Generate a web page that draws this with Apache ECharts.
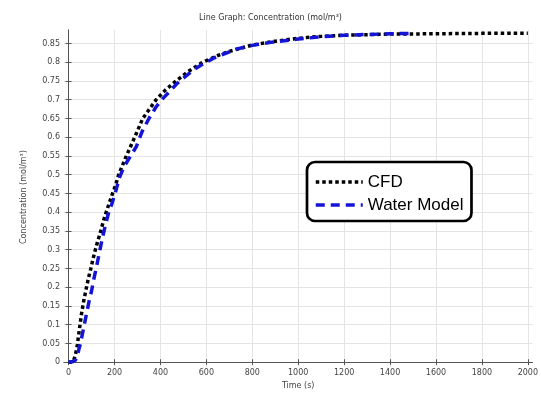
<!DOCTYPE html>
<html>
<head>
<meta charset="utf-8">
<script src="https://cdn.jsdelivr.net/npm/echarts@6/dist/echarts.min.js"></script>
<style>html,body{margin:0;padding:0;background:#fff}#c{width:541px;height:395px}</style>
</head>
<body>
<div id="c"></div>
<script>
// ---- data ----
const seriesNames = ['CFD', 'Water Model'];
const xTicks = [0, 200, 400, 600, 800, 1000, 1200, 1400, 1600, 1800, 2000];
const yTicks = [0, 0.05, 0.1, 0.15, 0.2, 0.25, 0.3, 0.35, 0.4, 0.45, 0.5, 0.55, 0.6, 0.65, 0.7, 0.75, 0.8, 0.85];

const cfdTime = [0, 20, 30, 38, 48, 57, 67, 77, 87, 97, 107, 117, 127, 137, 147, 157, 168, 178, 188, 198, 208, 218, 250, 290, 323, 381, 420, 468, 520, 584, 650, 700, 800, 900, 1000, 1100, 1200, 1400, 1600, 1800, 2000];
const cfdConc = [0, 0.001, 0.02, 0.046, 0.092, 0.132, 0.167, 0.197, 0.226, 0.250, 0.277, 0.301, 0.323, 0.343, 0.366, 0.388, 0.408, 0.426, 0.444, 0.461, 0.479, 0.5, 0.548, 0.603, 0.65, 0.70, 0.725, 0.75, 0.775, 0.80, 0.818, 0.829, 0.846, 0.856, 0.864, 0.869, 0.872, 0.875, 0.876, 0.877, 0.877];

const waterTime = [0, 20, 30, 38, 45, 52, 60, 70, 80, 90, 100, 110, 120, 130, 140, 150, 160, 175, 190, 205, 220, 240, 265, 295, 320, 350, 380, 410, 440, 470, 505, 540, 590, 635, 730, 800, 880, 1000, 1100, 1200, 1300, 1400, 1500];
const waterConc = [0, 0.002, 0.006, 0.015, 0.035, 0.05, 0.075, 0.105, 0.135, 0.165, 0.19, 0.222, 0.25, 0.28, 0.31, 0.338, 0.365, 0.40, 0.425, 0.455, 0.49, 0.52, 0.545, 0.575, 0.615, 0.65, 0.68, 0.703, 0.722, 0.742, 0.76, 0.778, 0.797, 0.812, 0.835, 0.845, 0.853, 0.862, 0.868, 0.872, 0.874, 0.876, 0.877];

const zip = (a, b) => a.map((v, i) => [v, b[i]]);
const font = 'DejaVu Sans';
const axisColor = '#555';
const txt = '#444';

const chart = echarts.init(document.getElementById('c'), null, {renderer: 'canvas'});
chart.setOption({
  animation: false,
  backgroundColor: '#fff',
  title: {
    text: 'Line Graph: Concentration (mol/m³)',
    left: 'center', top: 9,
    textStyle: {fontSize: 8, fontWeight: 'normal', color: '#333', fontFamily: font}
  },
  grid: {left: 64, top: 30, right: 8, bottom: 23, containLabel: false},
  legend: {
    data: seriesNames,
    orient: 'vertical',
    left: 307, top: 162,
    padding: [10, 8, 6, 7],
    itemWidth: 47, itemHeight: 14, itemGap: 3,
    borderColor: '#000', borderWidth: 2.7, borderRadius: 8,
    backgroundColor: '#fff',
    textStyle: {fontSize: 17, fontFamily: 'Liberation Sans', color: '#000', lineHeight: 20},
    lineStyle: {width: 3.5},
    itemStyle: {color: 'transparent', borderColor: 'transparent', borderWidth: 0, opacity: 0}
  },
  xAxis: [{
    type: 'value', min: -20, max: 2020, position: 'bottom',
    name: 'Time (s)', nameLocation: 'middle', nameGap: 15,
    nameTextStyle: {fontSize: 8, color: txt, fontFamily: font},
    axisLine: {show: true, lineStyle: {color: axisColor, width: 1}},
    axisTick: {show: true, inside: true, length: 3, customValues: xTicks, lineStyle: {color: axisColor}},
    axisLabel: {show: true, customValues: xTicks, fontSize: 8, color: txt, fontFamily: font, margin: 5, formatter: v => String(v)},
    splitLine: {show: true, lineStyle: {color: '#e4e4e4', width: 1}}
  }, {
    type: 'value', min: -20, max: 2020, position: 'top',
    axisLine: {show: true, lineStyle: {color: axisColor, width: 1}},
    axisTick: {show: true, inside: true, length: 3, customValues: xTicks, lineStyle: {color: axisColor}},
    axisLabel: {show: false},
    splitLine: {show: false}
  }],
  yAxis: [{
    type: 'value', min: -0.005, max: 0.886, position: 'left',
    name: 'Concentration (mol/m³)', nameLocation: 'middle', nameGap: 36,
    nameTextStyle: {fontSize: 8, color: txt, fontFamily: font},
    axisLine: {show: true, lineStyle: {color: axisColor, width: 1}},
    axisTick: {show: true, inside: true, length: 3, customValues: yTicks, lineStyle: {color: axisColor}},
    axisLabel: {show: true, customValues: yTicks, fontSize: 8, color: txt, fontFamily: font, margin: 4,
      formatter: v => String(Math.round(v * 100) / 100)},
    splitLine: {show: true, lineStyle: {color: '#e4e4e4', width: 1}}
  }, {
    type: 'value', min: -0.005, max: 0.886, position: 'right',
    axisLine: {show: true, lineStyle: {color: axisColor, width: 1}},
    axisTick: {show: true, inside: true, length: 3, customValues: yTicks, lineStyle: {color: axisColor}},
    axisLabel: {show: false},
    splitLine: {show: false}
  }],
  series: [{
    name: seriesNames[0], type: 'line', xAxisIndex: 0, yAxisIndex: 0,
    data: zip(cfdTime, cfdConc),
    symbol: 'none', showSymbol: false, smooth: false,
    lineStyle: {color: '#000', width: 3.5, type: [3.5, 3], cap: 'butt'},
    itemStyle: {color: '#000'}
  }, {
    name: seriesNames[1], type: 'line', xAxisIndex: 0, yAxisIndex: 0,
    data: zip(waterTime, waterConc),
    symbol: 'none', showSymbol: false, smooth: false,
    lineStyle: {color: '#1414d6', width: 3.5, type: [9, 6], cap: 'butt'},
    itemStyle: {color: '#1414d6'}
  }]
});
</script>
</body>
</html>
